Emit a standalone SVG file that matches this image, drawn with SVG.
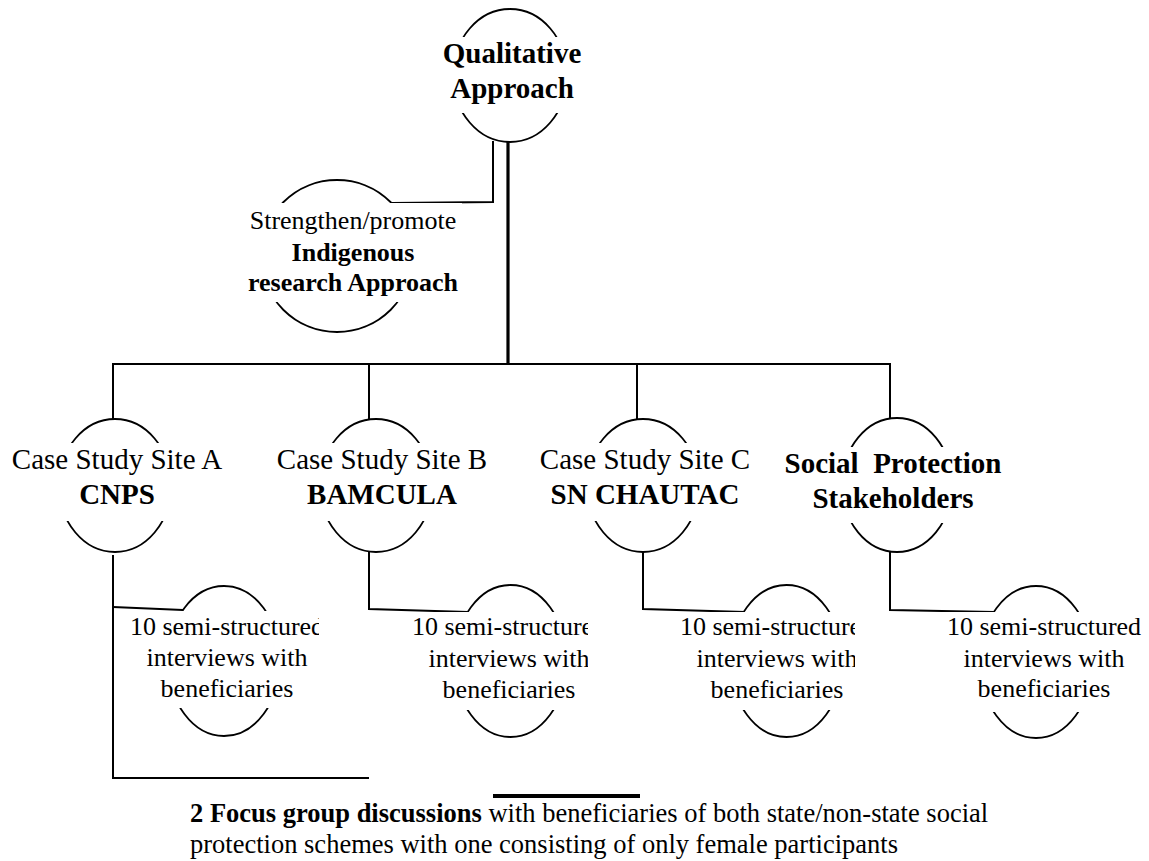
<svg xmlns="http://www.w3.org/2000/svg" width="1149" height="861" viewBox="0 0 1149 861">
<style>
text{font-family:"Liberation Serif","Times New Roman",serif;fill:#000;}
.t26{font-size:26px;}
.t29{font-size:29px;}
.t27{font-size:26.5px;}
.b{font-weight:bold;}
.shape{fill:#fff;stroke:#000;stroke-width:1.8;}
.box{fill:#fff;stroke:none;}
.c{fill:none;stroke:#000;stroke-width:2;}
.thick{fill:none;stroke:#000;stroke-width:3.2;}
</style>
<defs>
<clipPath id="clipA"><rect x="100" y="600" width="219" height="120"/></clipPath>
<clipPath id="clipB"><rect x="390" y="600" width="198" height="120"/></clipPath>
<clipPath id="clipC"><rect x="660" y="600" width="195" height="120"/></clipPath>
</defs>
<rect width="1149" height="861" fill="#fff"/>
<g id="connectors">
<line class="thick" x1="508" y1="141" x2="508" y2="365"/>
<polyline class="c" points="493,141 493,202 392,203"/>
<line class="c" x1="112" y1="364" x2="891" y2="364"/>
<line class="c" x1="113" y1="364" x2="113" y2="420"/>
<line class="c" x1="369" y1="364" x2="369" y2="420"/>
<line class="c" x1="637" y1="364" x2="637" y2="420"/>
<line class="c" x1="890" y1="364" x2="890" y2="419"/>
<polyline class="c" points="113,555 113,778 369,778"/>
<polyline class="c" points="113,607 183,610"/>
<polyline class="c" points="369,552 369,609 468,612"/>
<polyline class="c" points="643,552 643,609 745,612"/>
<polyline class="c" points="890,552 890,610 994,612"/>
<line x1="493" y1="796" x2="640" y2="796" stroke="#000" stroke-width="4"/>
</g>
<g id="qualitative">
<ellipse class="shape" cx="510" cy="75.5" rx="57" ry="66.5"/>
<rect class="box" x="440" y="37" width="146" height="76"/>
<text class="t29 b" x="512" y="63" text-anchor="middle">Qualitative</text>
<text class="t29 b" x="512" y="98" text-anchor="middle">Approach</text>
</g>
<g id="indigenous">
<ellipse class="shape" cx="337" cy="256" rx="76" ry="76"/>
<rect class="box" x="244" y="203" width="218" height="99"/>
<text class="t26" x="353" y="229" text-anchor="middle">Strengthen/promote</text>
<text class="t26 b" x="353" y="261" text-anchor="middle">Indigenous</text>
<text class="t26 b" x="353" y="291" text-anchor="middle">research Approach</text>
</g>
<g id="siteA">
<ellipse class="shape" cx="115" cy="485.5" rx="56" ry="66.5"/>
<rect class="box" x="8" y="443" width="218" height="78"/>
<text class="t29" x="117" y="469" text-anchor="middle">Case Study Site A</text>
<text class="t29 b" x="117" y="504" text-anchor="middle">CNPS</text>
</g>
<g id="siteB">
<ellipse class="shape" cx="376" cy="485.5" rx="56" ry="66.5"/>
<rect class="box" x="274" y="443" width="216" height="78"/>
<text class="t29" x="382" y="469" text-anchor="middle">Case Study Site B</text>
<text class="t29 b" x="382" y="504" text-anchor="middle">BAMCULA</text>
</g>
<g id="siteC">
<ellipse class="shape" cx="643" cy="485.5" rx="56" ry="66.5"/>
<rect class="box" x="536" y="443" width="218" height="78"/>
<text class="t29" x="645" y="469" text-anchor="middle">Case Study Site C</text>
<text class="t29 b" x="645" y="504" text-anchor="middle">SN CHAUTAC</text>
</g>
<g id="stakeholders">
<ellipse class="shape" cx="897" cy="485" rx="55" ry="67"/>
<rect class="box" x="780" y="447" width="226" height="76"/>
<text class="t29 b" x="893" y="473" text-anchor="middle" xml:space="preserve">Social  Protection</text>
<text class="t29 b" x="893" y="508" text-anchor="middle">Stakeholders</text>
</g>
<g id="interviewsA">
<ellipse class="shape" cx="224" cy="661" rx="56" ry="75"/>
<rect class="box" x="120" y="611" width="199" height="97"/>
<g clip-path="url(#clipA)">
<text class="t26" x="227" y="635" text-anchor="middle">10 semi-structured</text>
<text class="t26" x="227" y="666" text-anchor="middle">interviews with</text>
<text class="t26" x="227" y="697" text-anchor="middle">beneficiaries</text>
</g>
</g>
<g id="interviewsB">
<ellipse class="shape" cx="510.5" cy="661" rx="56" ry="76"/>
<rect class="box" x="405" y="612" width="183" height="98"/>
<g clip-path="url(#clipB)">
<text class="t26" x="509" y="635" text-anchor="middle">10 semi-structured</text>
<text class="t26" x="509" y="667" text-anchor="middle">interviews with</text>
<text class="t26" x="509" y="698" text-anchor="middle">beneficiaries</text>
</g>
</g>
<g id="interviewsC">
<ellipse class="shape" cx="786.5" cy="661" rx="56" ry="76"/>
<rect class="box" x="672" y="612" width="183" height="98"/>
<g clip-path="url(#clipC)">
<text class="t26" x="777" y="635" text-anchor="middle">10 semi-structured</text>
<text class="t26" x="777" y="667" text-anchor="middle">interviews with</text>
<text class="t26" x="777" y="698" text-anchor="middle">beneficiaries</text>
</g>
</g>
<g id="interviewsD">
<ellipse class="shape" cx="1036" cy="662" rx="56" ry="76"/>
<rect class="box" x="940" y="612" width="206" height="100"/>
<text class="t26" x="1044" y="635" text-anchor="middle">10 semi-structured</text>
<text class="t26" x="1044" y="667" text-anchor="middle">interviews with</text>
<text class="t26" x="1044" y="697" text-anchor="middle">beneficiaries</text>
</g>
<g id="focusgroups">
<text class="t27" x="190" y="822"><tspan class="b">2 Focus group discussions</tspan> with beneficiaries of both state/non-state social</text>
<text class="t27" x="190" y="853">protection schemes with one consisting of only female participants</text>
</g>
</svg>
